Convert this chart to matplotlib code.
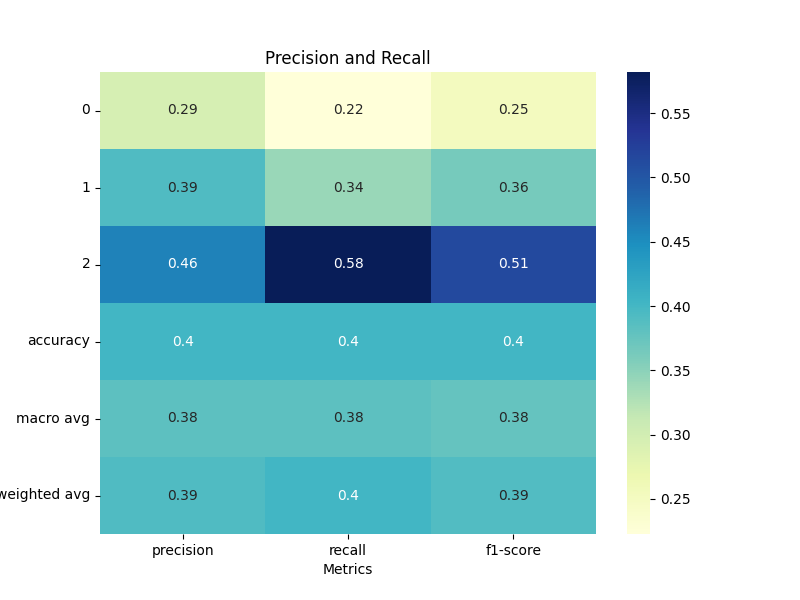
import matplotlib
matplotlib.use("Agg")
import matplotlib.pyplot as plt
import seaborn as sns
import pandas as pd

# classification report values
rows = ["0", "1", "2", "accuracy", "macro avg", "weighted avg"]
cols = ["precision", "recall", "f1-score"]
precision = [0.2950, 0.3924, 0.4612, 0.4020, 0.3816, 0.3921]
recall = [0.2227, 0.3412, 0.5820, 0.4020, 0.3820, 0.4020]
f1 = [0.2525, 0.3634, 0.5143, 0.4020, 0.3767, 0.3903]

df = pd.DataFrame({"precision": precision, "recall": recall, "f1-score": f1}, index=rows)

fig = plt.figure(figsize=(8, 6), dpi=100)
ax = sns.heatmap(df[cols], annot=True, cmap="YlGnBu")
ax.set_title("Precision and Recall")
ax.set_xlabel("Metrics")
plt.savefig("out.png")
